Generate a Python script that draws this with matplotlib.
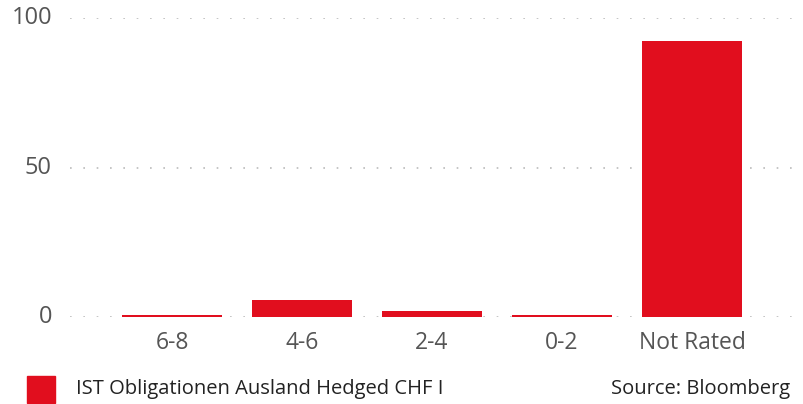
import matplotlib
matplotlib.use("Agg")
import matplotlib.pyplot as plt
from matplotlib.patches import Rectangle

categories = ["6-8", "4-6", "2-4", "0-2", "Not Rated"]
values = [0.7, 5.7, 2.0, 0.7, 92.3]
series_name = "IST Obligationen Ausland Hedged CHF I"
source = "Source: Bloomberg"
yticks = [0, 50, 100]

plt.rcParams['font.family'] = ['Open Sans', 'DejaVu Sans']
red = "#E10E1E"
grey = "#555555"

W, H = 804, 404
fig = plt.figure(figsize=(W/100, H/100), dpi=100)
ax = fig.add_axes([70/W, (H-317)/H, (804-70)/W, (317-18)/H])

x = list(range(len(categories)))
ax.bar(x, values, width=100/130, color=red, zorder=3)
ax.set_xlim((70-172)/130, (804-172)/130)
ax.set_ylim(0, 100)
ax.set_yticks(yticks)
ax.set_xticks(x)
ax.set_xticklabels(categories)
for s in ax.spines.values():
    s.set_visible(False)
ax.tick_params(axis='x', length=0, labelsize=16.5, labelcolor=grey, pad=10)
ax.tick_params(axis='y', length=0, labelsize=17, labelcolor=grey, pad=13)
ax.grid(axis='y', color="#BBBBBB", linestyle=(0, (1, 7)), linewidth=1.2, zorder=0)
ax.set_axisbelow(True)
for lab in ax.get_yticklabels():
    lab.set_verticalalignment('center')
    lab.set_horizontalalignment('right')

fig.patches.append(Rectangle((27/W, 1-403/H), 28/W, 27/H, transform=fig.transFigure,
                             color=red, figure=fig))
fig.text(76/W, 1-389/H, series_name, fontsize=14.5, color="#222222", va='center', ha='left')
fig.text(790/W, 1-389/H, source, fontsize=14.5, color="#222222", va='center', ha='right')

fig.savefig("out.png", dpi=100)
